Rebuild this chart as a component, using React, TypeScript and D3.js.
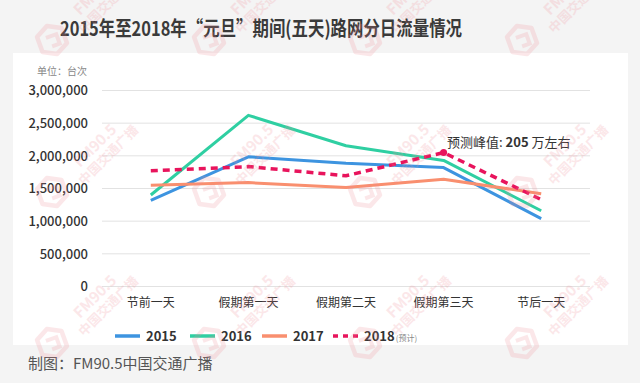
import React, { useEffect } from "react";
import * as d3 from "d3";

const categories = ["节前一天", "假期第一天", "假期第二天", "假期第三天", "节后一天"];
const s2015 = [1320000, 1985000, 1885000, 1820000, 1040000];
const s2016 = [1400000, 2620000, 2155000, 1930000, 1160000];
const s2017 = [1550000, 1590000, 1515000, 1640000, 1420000];
const s2018 = [1770000, 1835000, 1695000, 2050000, 1330000];
const yTicks = [0, 500000, 1000000, 1500000, 2000000, 2500000, 3000000];
const seriesNames = ["2015", "2016", "2017", "2018"];
const colors = ["#3d94e0", "#2fcfa2", "#f98f6f", "#e8145c"];

const W = 640;
const H = 383;
const FONT = "'Noto Sans CJK SC', 'Noto Sans', sans-serif";

function Watermark({ x, y }: { x: number; y: number }) {
  const c = "#f08a94";
  return (
    <g transform={`translate(${x},${y})`} opacity={0.2}>
      <g transform="rotate(-20)">
        <path
          d="M-13,-8 L0,-15 L13,-8 L13,8 L0,15 L-13,8 Z"
          fill="none"
          stroke={c}
          strokeWidth={4.5}
          strokeLinejoin="round"
        />
        <path d="M-5,-4 L6,-4 L6,6 L-2,6" fill="none" stroke={c} strokeWidth={4} />
      </g>
      <text
        transform="translate(28,-24) rotate(-45)"
        fontFamily={FONT}
        fontSize={15}
        fontWeight={700}
        fill={c}
      >
        FM90.5
      </text>
      <text
        transform="translate(32,-6) rotate(-45)"
        fontFamily={FONT}
        fontSize={13}
        fontWeight={700}
        fill={c}
      >
        中国交通广播
      </text>
    </g>
  );
}

export default function App() {
  useEffect(() => {
    document.body.style.margin = "0";
  }, []);

  const x = d3.scaleBand<string>().domain(categories).range([102, 590]);
  const y = d3.scaleLinear().domain([0, 3000000]).range([286.5, 90.5]);
  const cx = (c: string) => (x(c) as number) + x.bandwidth() / 2;
  const line = d3
    .line<number>()
    .x((_, i) => cx(categories[i]))
    .y((d) => y(d));
  const fmt = d3.format(",");
  const all = [s2015, s2016, s2017, s2018];

  const wmXs = [52, 209, 365, 522];
  const wmYs = [40, 192, 343];

  const legendItems = [
    { x0: 115, name: seriesNames[0] },
    { x0: 190, name: seriesNames[1] },
    { x0: 262, name: seriesNames[2] },
    { x0: 333, name: seriesNames[3] },
  ];

  const peakIdx = 3;

  return (
    <svg width={W} height={H} style={{ display: "block" }} fontFamily={FONT}>
      <rect x={0} y={0} width={W} height={H} fill="#f4f4f4" />
      <rect x={13} y={53} width={615} height={292} fill="#ffffff" />

      <text
        x={60}
        y={36}
        fontSize={20}
        fontWeight={600}
        fill="#3a3a3a"
        textLength={402}
        lengthAdjust="spacingAndGlyphs"
      >
        2015年至2018年“元旦”期间(五天)路网分日流量情况
      </text>

      <text x={87} y={75} textAnchor="end" fontSize={10} fill="#888">
        单位：台次
      </text>

      {yTicks.map((t) => (
        <g key={t}>
          <line x1={102} x2={590} y1={y(t)} y2={y(t)} stroke="#e2e2e2" strokeWidth={1} />
          <text
            x={88}
            y={y(t)}
            dy="0.36em"
            textAnchor="end"
            fontSize={13}
            fontWeight={500}
            fill="#333"
          >
            {fmt(t)}
          </text>
        </g>
      ))}

      {categories.map((c) => (
        <text key={c} x={cx(c)} y={307} textAnchor="middle" fontSize={12} fill="#333">
          {c}
        </text>
      ))}

      {all.slice(0, 3).map((s, i) => (
        <path
          key={i}
          d={line(s) as string}
          fill="none"
          stroke={colors[i]}
          strokeWidth={3}
          strokeLinejoin="round"
        />
      ))}
      <path
        d={line(s2018) as string}
        fill="none"
        stroke={colors[3]}
        strokeWidth={3.5}
        strokeDasharray="7,5"
      />
      <circle cx={cx(categories[peakIdx])} cy={y(s2018[peakIdx])} r={3.5} fill={colors[3]} />

      <text x={447} y={147} fontSize={13} fill="#333">
        预测峰值:{" "}
        <tspan fontWeight={700}>205</tspan> 万左右
      </text>

      {legendItems.map((it, i) => (
        <g key={it.name}>
          <line
            x1={it.x0}
            x2={it.x0 + 25}
            y1={336}
            y2={336}
            stroke={colors[i]}
            strokeWidth={3.5}
            strokeDasharray={i === 3 ? "5,5" : undefined}
          />
          <text x={it.x0 + 31} y={336} dy="0.36em" fontSize={13} fontWeight={600} fill="#333">
            {it.name}
            {i === 3 ? (
              <tspan fontSize={8} fontWeight={400} fill="#888" dx={1}>
                (预计)
              </tspan>
            ) : null}
          </text>
        </g>
      ))}

      <text x={28} y={369} fontSize={15} fill="#555">
        制图：FM90.5中国交通广播
      </text>

      {wmYs.map((wy) =>
        wmXs.map((wx) => <Watermark key={`${wx}-${wy}`} x={wx} y={wy} />)
      )}
    </svg>
  );
}
